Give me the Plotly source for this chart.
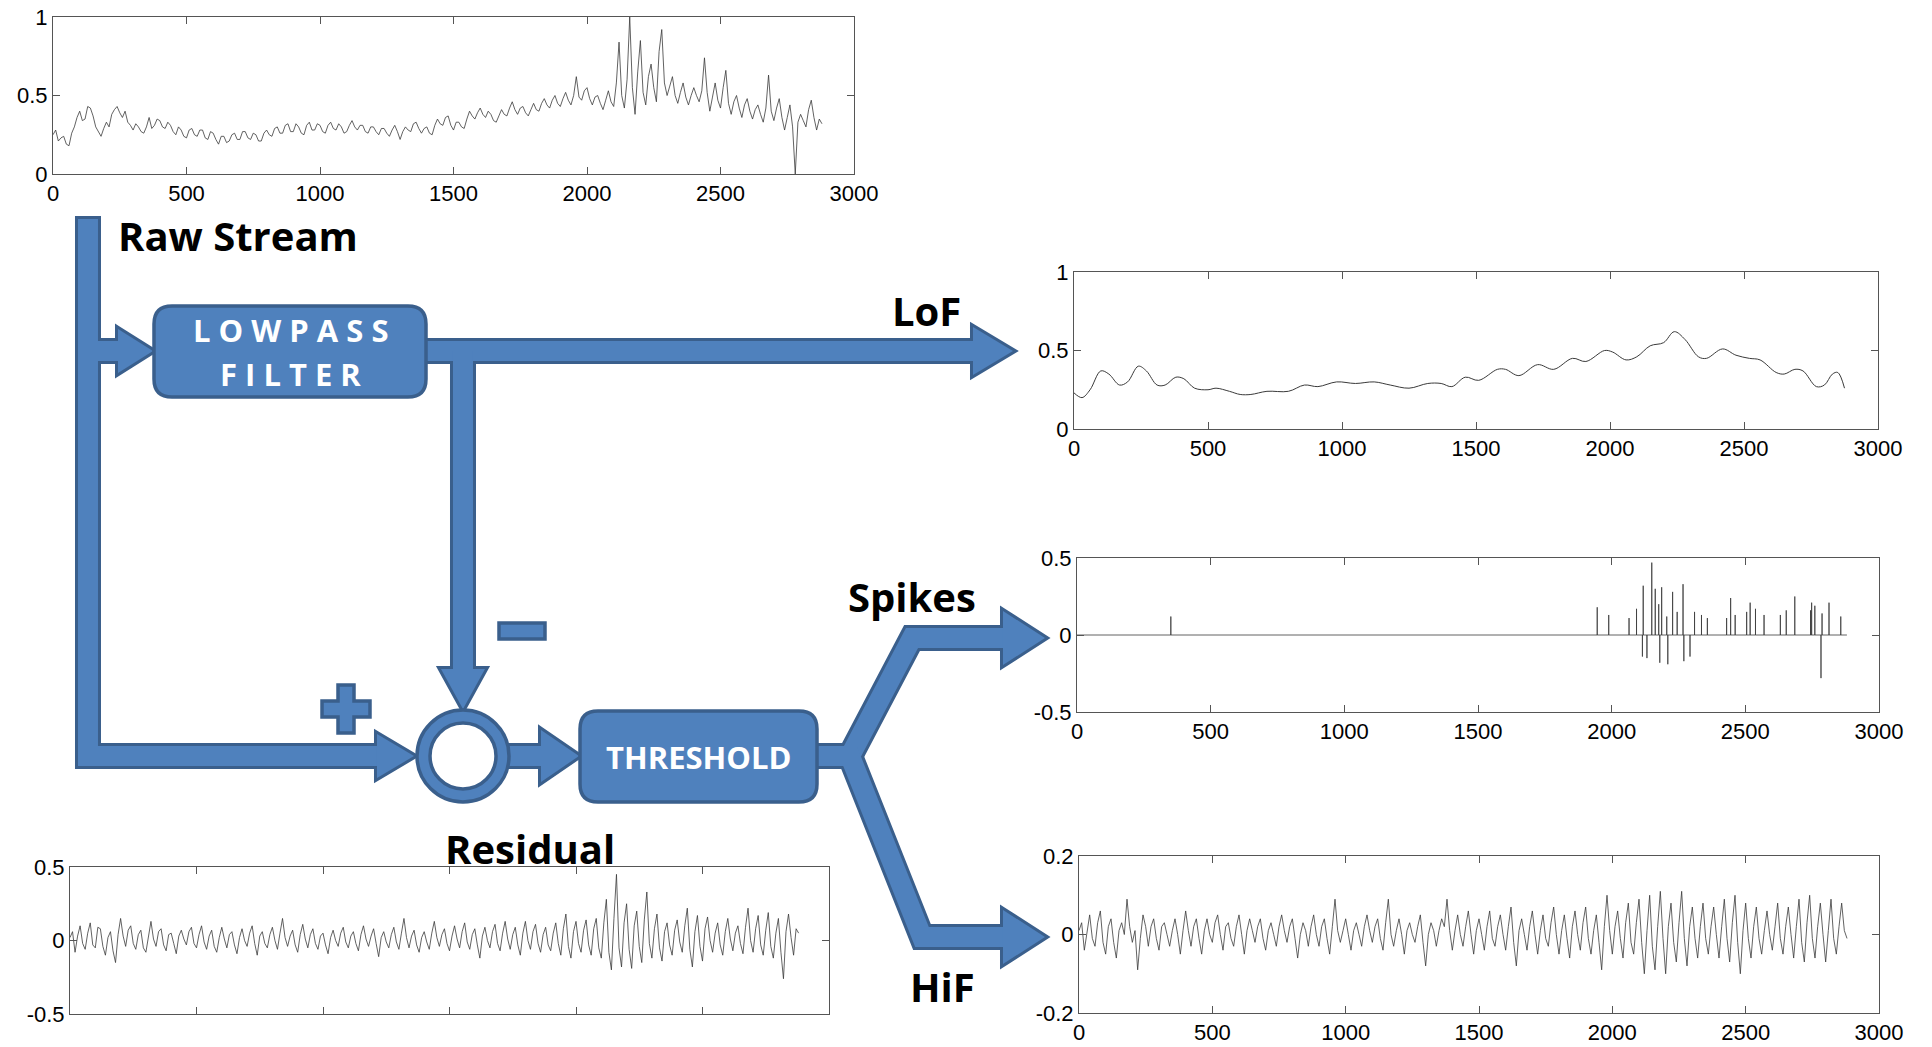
import math
import plotly.graph_objects as go

W, H = 1932, 1047

# ---------------- data ----------------
x_ticks = [0, 500, 1000, 1500, 2000, 2500, 3000]
x_ticktext = ["0", "500", "1000", "1500", "2000", "2500", "3000"]

sample_x = list(range(0, 2881, 10))

raw_stream = [
    0.25, 0.28, 0.21, 0.23, 0.24, 0.19, 0.18, 0.26, 0.30, 0.36, 0.40, 0.34, 0.35, 0.43, 0.42, 0.37, 0.30, 0.27, 0.24, 0.29,
    0.33, 0.30, 0.38, 0.41, 0.43, 0.39, 0.36, 0.40, 0.33, 0.31, 0.28, 0.32, 0.30, 0.27, 0.26, 0.30, 0.36, 0.29, 0.31, 0.35,
    0.34, 0.30, 0.29, 0.33, 0.31, 0.27, 0.25, 0.30, 0.28, 0.24, 0.23, 0.28, 0.29, 0.25, 0.24, 0.28, 0.28, 0.23, 0.22, 0.27,
    0.26, 0.22, 0.19, 0.24, 0.24, 0.20, 0.21, 0.25, 0.26, 0.22, 0.22, 0.27, 0.27, 0.23, 0.22, 0.26, 0.25, 0.21, 0.21, 0.26,
    0.28, 0.25, 0.24, 0.29, 0.30, 0.26, 0.26, 0.31, 0.32, 0.27, 0.27, 0.32, 0.30, 0.26, 0.25, 0.31, 0.33, 0.28, 0.28, 0.32,
    0.31, 0.27, 0.26, 0.31, 0.33, 0.29, 0.28, 0.32, 0.30, 0.26, 0.27, 0.31, 0.34, 0.30, 0.28, 0.31, 0.31, 0.27, 0.26, 0.30,
    0.30, 0.27, 0.25, 0.29, 0.29, 0.26, 0.24, 0.28, 0.31, 0.27, 0.22, 0.27, 0.30, 0.28, 0.27, 0.32, 0.33, 0.29, 0.26, 0.29,
    0.30, 0.26, 0.25, 0.31, 0.35, 0.32, 0.31, 0.36, 0.37, 0.31, 0.28, 0.33, 0.33, 0.30, 0.29, 0.35, 0.40, 0.37, 0.35, 0.39,
    0.42, 0.38, 0.36, 0.40, 0.38, 0.34, 0.33, 0.37, 0.41, 0.38, 0.37, 0.42, 0.46, 0.41, 0.38, 0.42, 0.43, 0.39, 0.37, 0.41,
    0.45, 0.41, 0.40, 0.45, 0.48, 0.44, 0.42, 0.47, 0.50, 0.45, 0.43, 0.48, 0.52, 0.47, 0.44, 0.50, 0.62, 0.49, 0.47, 0.53,
    0.55, 0.48, 0.44, 0.49, 0.50, 0.45, 0.41, 0.47, 0.53, 0.46, 0.43, 0.58, 0.84, 0.50, 0.42, 0.60, 1.00, 0.55, 0.38, 0.65,
    0.85, 0.52, 0.44, 0.62, 0.70, 0.55, 0.46, 0.78, 0.92, 0.58, 0.50, 0.56, 0.62, 0.50, 0.45, 0.52, 0.58, 0.49, 0.44, 0.50,
    0.55, 0.50, 0.46, 0.53, 0.74, 0.52, 0.40, 0.49, 0.58, 0.47, 0.42, 0.55, 0.66, 0.45, 0.38, 0.46, 0.50, 0.42, 0.36, 0.44,
    0.48, 0.40, 0.35, 0.41, 0.44, 0.38, 0.33, 0.42, 0.63, 0.40, 0.34, 0.42, 0.48, 0.36, 0.28, 0.36, 0.44, 0.30, 0.00, 0.33,
    0.38, 0.34, 0.30, 0.41, 0.47, 0.36, 0.28, 0.35, 0.32,
]

residual = [
    0.02, 0.06, -0.08, 0.03, 0.10, -0.02, -0.06, 0.05, 0.12, -0.03, -0.05, 0.09, 0.08, -0.04, -0.10, 0.02, 0.06, -0.07, -0.15, 0.04,
    0.15, 0.03, -0.04, 0.07, 0.10, -0.02, -0.06, 0.04, 0.07, -0.05, -0.08, 0.03, 0.13, 0.01, -0.04, 0.06, 0.08, -0.03, -0.07, 0.04,
    0.05, -0.02, -0.09, 0.03, 0.07, 0.01, -0.03, 0.06, 0.09, -0.02, -0.05, 0.04, 0.10, -0.01, -0.06, 0.03, 0.07, -0.04, -0.08, 0.02,
    0.09, 0.01, -0.05, 0.04, 0.06, -0.03, -0.09, 0.02, 0.08, 0.00, -0.04, 0.05, 0.10, -0.02, -0.10, 0.03, 0.06, -0.02, -0.05, 0.04,
    0.09, 0.00, -0.06, 0.05, 0.15, 0.02, -0.04, 0.03, 0.07, -0.03, -0.08, 0.04, 0.11, 0.01, -0.05, 0.04, 0.08, -0.02, -0.06, 0.03,
    0.05, -0.03, -0.09, 0.02, 0.07, 0.00, -0.04, 0.05, 0.09, -0.01, -0.05, 0.03, 0.06, -0.02, -0.07, 0.04, 0.10, 0.01, -0.04, 0.03,
    0.08, -0.02, -0.11, 0.02, 0.06, -0.01, -0.05, 0.04, 0.09, -0.01, -0.06, 0.05, 0.15, 0.02, -0.05, 0.03, 0.07, -0.03, -0.08, 0.02,
    0.06, -0.01, -0.06, 0.05, 0.13, 0.02, -0.04, 0.04, 0.08, -0.02, -0.07, 0.03, 0.10, 0.01, -0.05, 0.06, 0.12, -0.01, -0.06, 0.04,
    0.08, -0.03, -0.12, 0.03, 0.09, 0.00, -0.05, 0.06, 0.11, -0.02, -0.07, 0.05, 0.13, 0.01, -0.06, 0.04, 0.09, -0.03, -0.10, 0.05,
    0.13, 0.00, -0.06, 0.06, 0.11, -0.02, -0.08, 0.04, 0.09, -0.03, -0.07, 0.05, 0.12, -0.02, -0.10, 0.08, 0.18, -0.04, -0.12, 0.06,
    0.13, -0.02, -0.08, 0.07, 0.14, -0.03, -0.10, 0.08, 0.15, -0.05, -0.12, 0.12, 0.28, -0.08, -0.20, 0.15, 0.45, -0.05, -0.18, 0.12,
    0.25, -0.06, -0.19, 0.10, 0.20, -0.04, -0.15, 0.14, 0.33, -0.02, -0.12, 0.08, 0.18, -0.05, -0.14, 0.06, 0.12, -0.03, -0.10, 0.07,
    0.14, -0.01, -0.08, 0.10, 0.22, -0.06, -0.18, 0.06, 0.17, -0.04, -0.14, 0.08, 0.16, 0.00, -0.08, 0.05, 0.12, -0.03, -0.10, 0.06,
    0.15, 0.01, -0.07, 0.05, 0.10, -0.02, -0.09, 0.09, 0.22, 0.00, -0.08, 0.08, 0.17, -0.03, -0.10, 0.07, 0.19, -0.04, -0.12, 0.05,
    0.15, -0.08, -0.26, 0.06, 0.18, 0.02, -0.10, 0.08, 0.05,
]

hif = [
    0.01, 0.03, -0.04, 0.01, 0.05, -0.01, -0.03, 0.03, 0.06, -0.02, -0.05, 0.02, 0.04, -0.02, -0.06, 0.01, 0.03, 0.00, 0.09, 0.02,
    -0.02, 0.01, -0.09, -0.01, 0.05, 0.02, -0.03, 0.02, 0.04, -0.01, -0.04, 0.02, 0.03, 0.00, -0.03, 0.01, 0.04, 0.00, -0.05, 0.01,
    0.06, 0.01, -0.03, 0.02, 0.04, -0.01, -0.05, 0.01, 0.04, 0.00, -0.02, 0.03, 0.05, 0.00, -0.04, 0.02, 0.03, -0.01, -0.03, 0.02,
    0.05, 0.00, -0.05, 0.01, 0.04, 0.01, -0.02, 0.02, 0.04, -0.01, -0.04, 0.01, 0.03, 0.00, -0.03, 0.02, 0.05, 0.01, -0.02, 0.02,
    0.04, -0.01, -0.06, 0.00, 0.03, 0.01, -0.03, 0.02, 0.05, 0.00, -0.03, 0.02, 0.04, -0.01, -0.05, 0.02, 0.09, 0.01, -0.02, 0.01,
    0.04, 0.00, -0.04, 0.01, 0.03, 0.00, -0.03, 0.02, 0.05, 0.01, -0.02, 0.02, 0.04, -0.01, -0.04, 0.03, 0.09, 0.00, -0.03, 0.01,
    0.04, 0.00, -0.05, 0.01, 0.03, 0.00, -0.02, 0.02, 0.05, -0.02, -0.08, 0.00, 0.03, 0.01, -0.03, 0.01, 0.04, 0.02, 0.09, 0.01,
    -0.04, 0.01, 0.05, 0.00, -0.03, 0.02, 0.06, 0.00, -0.05, 0.01, 0.04, 0.00, -0.04, 0.02, 0.06, -0.01, -0.03, 0.02, 0.05, 0.00,
    -0.04, 0.02, 0.07, -0.02, -0.08, 0.01, 0.04, 0.00, -0.04, 0.02, 0.06, 0.00, -0.05, 0.01, 0.05, -0.01, -0.03, 0.03, 0.07, 0.00,
    -0.05, 0.01, 0.05, -0.01, -0.06, 0.02, 0.06, 0.00, -0.04, 0.03, 0.07, -0.01, -0.05, 0.01, 0.05, -0.02, -0.09, 0.02, 0.10, 0.01,
    -0.05, 0.02, 0.06, -0.01, -0.06, 0.03, 0.08, -0.02, -0.05, 0.03, 0.09, -0.02, -0.10, 0.01, 0.10, -0.03, -0.09, 0.02, 0.11, -0.01,
    -0.10, 0.02, 0.08, -0.02, -0.07, 0.03, 0.11, -0.01, -0.08, 0.02, 0.07, -0.01, -0.06, 0.02, 0.08, -0.01, -0.05, 0.02, 0.07, 0.00,
    -0.06, 0.02, 0.09, -0.01, -0.07, 0.03, 0.10, -0.02, -0.10, 0.01, 0.08, -0.01, -0.06, 0.02, 0.07, -0.01, -0.05, 0.01, 0.06, 0.00,
    -0.04, 0.02, 0.08, -0.01, -0.05, 0.02, 0.07, 0.00, -0.06, 0.02, 0.09, -0.02, -0.07, 0.03, 0.10, -0.01, -0.06, 0.02, 0.08, 0.00,
    -0.07, 0.01, 0.09, -0.01, -0.05, 0.02, 0.08, 0.01, -0.01,
]

lof_x = [0, 30, 60, 100, 130, 170, 200, 240, 270, 310,
         340, 380, 410, 450, 500, 530, 580, 620, 660, 720,
         800, 860, 910, 980, 1050, 1120, 1180, 1250, 1320, 1370,
         1410, 1460, 1510, 1580, 1610, 1660, 1730, 1790, 1860, 1910,
         1980, 2010, 2060, 2100, 2150, 2200, 2240, 2280, 2330, 2360,
         2420, 2470, 2520, 2560, 2620, 2650, 2690, 2720, 2770, 2800,
         2830, 2850, 2875]
lof_y = [0.23, 0.20, 0.25, 0.37, 0.35, 0.28, 0.30, 0.40, 0.37, 0.28,
         0.28, 0.33, 0.32, 0.26, 0.25, 0.26, 0.24, 0.22, 0.22, 0.24,
         0.24, 0.28, 0.27, 0.30, 0.29, 0.30, 0.28, 0.26, 0.29, 0.29,
         0.27, 0.33, 0.31, 0.38, 0.38, 0.34, 0.41, 0.38, 0.45, 0.43,
         0.50, 0.49, 0.44, 0.46, 0.53, 0.55, 0.62, 0.57, 0.46, 0.45,
         0.51, 0.47, 0.45, 0.44, 0.36, 0.35, 0.38, 0.37, 0.27, 0.28,
         0.35, 0.36, 0.26]

spike_x = [351, 1946, 1989, 2065, 2093, 2115, 2118, 2132, 2150, 2163,
           2176, 2180, 2187, 2206, 2210, 2228, 2245, 2267, 2270, 2293,
           2310, 2336, 2358, 2430, 2445, 2462, 2505, 2518, 2538, 2570,
           2631, 2653, 2685, 2744, 2748, 2760, 2783, 2787, 2813, 2857]
spike_h = [0.12, 0.18, 0.13, 0.11, 0.17, -0.14, 0.32, -0.15, 0.47, 0.30,
           0.20, -0.18, 0.31, 0.12, -0.19, 0.28, 0.15, 0.33, -0.17, -0.14,
           0.15, 0.13, 0.11, 0.11, 0.24, 0.13, 0.15, 0.21, 0.17, 0.13,
           0.13, 0.16, 0.25, 0.16, 0.21, 0.19, -0.28, 0.14, 0.21, 0.12]
spike_end = 2880

# ---------------- styles ----------------
FILL = "#4F81BD"
EDGE = "#3A5F8C"
LINE = "#3a3a3a"
TICKFONT = dict(family="Liberation Sans, Arial, sans-serif", size=22, color="black")
LABELFONT = dict(family="Open Sans, sans-serif", size=40, color="black")


def px(x):
    return x / W


def py(y):
    return 1 - y / H


def poly_path(pts):
    s = "M %.5f %.5f" % (px(pts[0][0]), py(pts[0][1]))
    for (x, y) in pts[1:]:
        s += " L %.5f %.5f" % (px(x), py(y))
    return s + " Z"


def thick(points, hw):
    n = len(points)
    normals = []
    for i in range(n - 1):
        (x0, y0), (x1, y1) = points[i], points[i + 1]
        dx, dy = x1 - x0, y1 - y0
        L = math.hypot(dx, dy)
        normals.append((-dy / L, dx / L))
    left, right = [], []
    for i, (x, y) in enumerate(points):
        if i == 0:
            nx, ny = normals[0]
            s = 1.0
        elif i == n - 1:
            nx, ny = normals[-1]
            s = 1.0
        else:
            a, b = normals[i - 1], normals[i]
            mx, my = a[0] + b[0], a[1] + b[1]
            ml = math.hypot(mx, my)
            nx, ny = mx / ml, my / ml
            s = 1.0 / (nx * a[0] + ny * a[1])
        left.append((x + nx * hw * s, y + ny * hw * s))
        right.append((x - nx * hw * s, y - ny * hw * s))
    return left + right[::-1]


def head_right(x0, tip, cy, half):
    return [(x0, cy - half), (tip, cy), (x0, cy + half)]


def head_down(cx, y0, tip, half):
    return [(cx - half, y0), (cx, tip), (cx + half, y0)]


def rrect_path(x0, y0, x1, y1, r):
    P = lambda x, y: "%.5f %.5f" % (px(x), py(y))
    return ("M " + P(x0 + r, y0) + " L " + P(x1 - r, y0) +
            " Q " + P(x1, y0) + " " + P(x1, y0 + r) +
            " L " + P(x1, y1 - r) + " Q " + P(x1, y1) + " " + P(x1 - r, y1) +
            " L " + P(x0 + r, y1) + " Q " + P(x0, y1) + " " + P(x0, y1 - r) +
            " L " + P(x0, y0 + r) + " Q " + P(x0, y0) + " " + P(x0 + r, y0) + " Z")


HW = 10
pipes = [
    thick([(88, 219), (88, 756), (377, 756)], HW),
    head_right(377, 414, 756, 22),
    thick([(88, 351), (119, 351)], HW),
    head_right(118, 153, 351, 22),
    thick([(426, 351), (974, 351)], HW),
    head_right(973, 1013, 351, 24),
    thick([(463, 351), (463, 670)], HW),
    head_down(463, 669, 709, 22),
    thick([(500, 756), (542, 756)], HW),
    head_right(541, 579, 756, 26),
    thick([(815, 756), (850, 756), (912, 638), (1004, 638)], HW),
    head_right(1003, 1045, 638, 27),
    thick([(815, 756), (850, 756), (922, 937), (1004, 937)], HW),
    head_right(1003, 1045, 937, 27),
]

shapes = []
for p in pipes:
    shapes.append(dict(type="path", xref="paper", yref="paper", path=poly_path(p),
                       fillcolor=EDGE, line=dict(color=EDGE, width=6), layer="above"))
for p in pipes:
    shapes.append(dict(type="path", xref="paper", yref="paper", path=poly_path(p),
                       fillcolor=FILL, line=dict(width=0), layer="above"))

# boxes
for (x0, y0, x1, y1) in [(154, 306, 426, 397), (580, 711, 817, 802)]:
    shapes.append(dict(type="path", xref="paper", yref="paper",
                       path=rrect_path(x0, y0, x1, y1, 18),
                       fillcolor=FILL, line=dict(color=EDGE, width=3.5), layer="above"))

# summing junction
cx, cy = 463, 756
for r, col in [(46, FILL), (33, "white")]:
    shapes.append(dict(type="circle", xref="paper", yref="paper",
                       x0=px(cx - r), x1=px(cx + r), y0=py(cy + r), y1=py(cy - r),
                       fillcolor=col, line=dict(color=EDGE, width=3.5), layer="above"))

# plus sign
pcx, pcy, a, t = 346, 709, 24, 8
plus = [(pcx - t, pcy - a), (pcx + t, pcy - a), (pcx + t, pcy - t), (pcx + a, pcy - t),
        (pcx + a, pcy + t), (pcx + t, pcy + t), (pcx + t, pcy + a), (pcx - t, pcy + a),
        (pcx - t, pcy + t), (pcx - a, pcy + t), (pcx - a, pcy - t), (pcx - t, pcy - t)]
shapes.append(dict(type="path", xref="paper", yref="paper", path=poly_path(plus),
                   fillcolor=FILL, line=dict(color=EDGE, width=3.5), layer="above"))
# minus sign
minus = [(499, 623), (545, 623), (545, 639), (499, 639)]
shapes.append(dict(type="path", xref="paper", yref="paper", path=poly_path(minus),
                   fillcolor=FILL, line=dict(color=EDGE, width=3.5), layer="above"))

# ---------------- annotations ----------------
annotations = []


def label(text, x, y, font):
    annotations.append(dict(text=text, x=px(x), y=py(y), xref="paper", yref="paper",
                            xanchor="center", yanchor="middle", showarrow=False, font=font))


label("<b>Raw Stream</b>", 238, 235, LABELFONT)
label("<b>LoF</b>", 926, 310, LABELFONT)
label("<b>Spikes</b>", 912, 596, LABELFONT)
label("<b>HiF</b>", 942, 986, LABELFONT)
label("<b>Residual</b>", 530, 848, LABELFONT)
BOXFONT = dict(family="Open Sans, sans-serif", size=31, color="white")
label("<b>L O W P A S S</b>", 290, 330, BOXFONT)
label("<b>F I L T E R</b>", 290, 374, BOXFONT)
label("<b>THRESHOLD</b>", 698, 757, dict(family="Open Sans, sans-serif", size=31, color="white"))

# ---------------- traces ----------------
fig = go.Figure()

spx, spy = [0], [0]
for sx, h in zip(spike_x, spike_h):
    spx += [sx, sx, sx]
    spy += [0, h, 0]
spx.append(spike_end)
spy.append(0)

fig.add_trace(go.Scatter(x=sample_x, y=raw_stream, mode="lines",
                         line=dict(color=LINE, width=0.8), xaxis="x", yaxis="y"))
fig.add_trace(go.Scatter(x=lof_x, y=lof_y, mode="lines", line_shape="spline",
                         line=dict(color=LINE, width=1), xaxis="x2", yaxis="y2"))
fig.add_trace(go.Scatter(x=spx, y=spy, mode="lines",
                         line=dict(color=LINE, width=0.8), xaxis="x3", yaxis="y3"))
fig.add_trace(go.Scatter(x=sample_x, y=hif, mode="lines",
                         line=dict(color=LINE, width=0.8), xaxis="x4", yaxis="y4"))
fig.add_trace(go.Scatter(x=sample_x, y=residual, mode="lines",
                         line=dict(color=LINE, width=0.8), xaxis="x5", yaxis="y5"))


def xax(domain, anchor, labels=True):
    return dict(domain=domain, anchor=anchor, range=[0, 3000], tickvals=x_ticks,
                ticktext=x_ticktext, showticklabels=labels, showgrid=False, zeroline=False,
                showline=True, linecolor="#555", linewidth=1, mirror="ticks",
                ticks="inside", ticklen=7, tickcolor="#555", tickfont=TICKFONT)


def yax(domain, anchor, rng, vals, texts):
    return dict(domain=domain, anchor=anchor, range=rng, tickvals=vals, ticktext=texts,
                showgrid=False, zeroline=False, showline=True, linecolor="#555",
                linewidth=1, mirror="ticks", ticks="inside", ticklen=7, tickcolor="#555",
                tickfont=TICKFONT)


boxes = {
    "raw": (53, 854, 17, 174),
    "lof": (1074, 1878, 272, 429),
    "spk": (1077, 1879, 558, 712),
    "hif": (1079, 1879, 856, 1013),
    "res": (70, 829, 867, 1014),
}


def dom(key):
    x0, x1, y0, y1 = boxes[key]
    return [px(x0), px(x1)], [py(y1), py(y0)]


d = dom("raw")
layout_axes = dict(
    xaxis=xax(d[0], "y"),
    yaxis=yax(d[1], "x", [0, 1], [0, 0.5, 1], ["0", "0.5", "1"]),
)
d = dom("lof")
layout_axes["xaxis2"] = xax(d[0], "y2")
layout_axes["yaxis2"] = yax(d[1], "x2", [0, 1], [0, 0.5, 1], ["0", "0.5", "1"])
d = dom("spk")
layout_axes["xaxis3"] = xax(d[0], "y3")
layout_axes["yaxis3"] = yax(d[1], "x3", [-0.5, 0.5], [-0.5, 0, 0.5], ["-0.5", "0", "0.5"])
d = dom("hif")
layout_axes["xaxis4"] = xax(d[0], "y4")
layout_axes["yaxis4"] = yax(d[1], "x4", [-0.2, 0.2], [-0.2, 0, 0.2], ["-0.2", "0", "0.2"])
d = dom("res")
layout_axes["xaxis5"] = xax(d[0], "y5", labels=False)
layout_axes["yaxis5"] = yax(d[1], "x5", [-0.5, 0.5], [-0.5, 0, 0.5], ["-0.5", "0", "0.5"])

fig.update_layout(
    width=W, height=H, margin=dict(l=0, r=0, t=0, b=0),
    template="none", showlegend=False,
    paper_bgcolor="white", plot_bgcolor="white",
    shapes=shapes, annotations=annotations,
    **layout_axes,
)

fig.write_html("out.html", config={"displayModeBar": False})
